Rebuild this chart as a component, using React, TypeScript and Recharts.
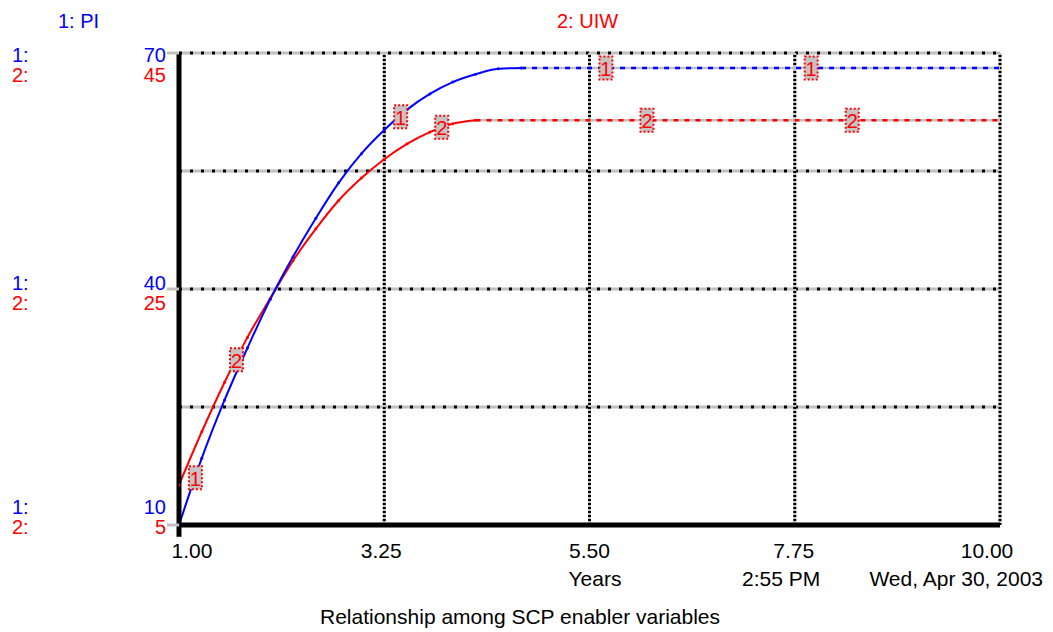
import React from 'react';
import { ComposedChart, Line, Scatter, XAxis, YAxis, ReferenceLine } from 'recharts';

// ---- data ----
const piYears = [1, 1.25, 1.5, 1.75, 2, 2.25, 2.5, 2.75, 3, 3.25, 3.5, 3.75, 4, 4.25, 4.5, 4.75];
const piValues = [10, 18.5, 25.9, 32.5, 38.7, 44.1, 49.0, 53.5, 57.2, 60.2, 62.8, 64.8, 66.3, 67.3, 68.0, 68.1];
const piPlateauYears = [4.75, 10];
const piPlateauValues = [68.1, 68.1];

const uiwYears = [1, 1.25, 1.5, 1.75, 2, 2.25, 2.5, 2.75, 3, 3.25, 3.5, 3.75, 4, 4.25];
const uiwValues = [8.4, 12.9, 17.1, 20.9, 24.2, 27.4, 30.1, 32.5, 34.4, 36.0, 37.3, 38.3, 39.0, 39.3];
const uiwPlateauYears = [4.25, 10];
const uiwPlateauValues = [39.3, 39.3];

const marker1Years = [1.18, 3.43, 5.68, 7.93];
const marker1Values = [16.0, 61.9, 68.1, 68.1];
const marker2Years = [1.63, 3.88, 6.13, 8.38];
const marker2Values = [19.0, 38.7, 39.3, 39.3];

const xTicks = [1, 3.25, 5.5, 7.75, 10];
const xTickLabels = ['1.00', '3.25', '5.50', '7.75', '10.00'];
const xGrid = [3.25, 5.5, 7.75, 10];

const piDomain = [10, 70];
const uiwDomain = [5, 45];
const piTicks = [10, 40, 70];
const piTickLabels = ['10', '40', '70'];
const uiwTickLabels = ['5', '25', '45'];
const piGrid = [25, 40, 55, 70];

// ---- styles ----
const FONT = 'Liberation Sans, Arial, sans-serif';
const FS = 20;
const FS_BOTTOM = 21;
const BLUE = '#0000ff';
const RED = '#ff0000';
const GRAY = '#c0c0c0';

const zip = (xs: number[], vs: number[]) => xs.map((x, i) => ({ x, v: vs[i] }));

const piSolid = zip(piYears, piValues);
const piPlateau = zip(piPlateauYears, piPlateauValues);
const uiwSolid = zip(uiwYears, uiwValues);
const uiwPlateau = zip(uiwPlateauYears, uiwPlateauValues);
const marker1 = zip(marker1Years, marker1Values);
const marker2 = zip(marker2Years, marker2Values);

const yOffsets = [[-11, 9], [1, 21], [9, 29]];

const YTick = (props: any) => {
  const { y, payload } = props;
  const i = piTicks.indexOf(payload.value);
  if (i < 0) return null;
  const [ob, or] = yOffsets[i];
  return (
    <g fontFamily={FONT} fontSize={FS}>
      <text x={12} y={y + ob} fill={BLUE}>1:</text>
      <text x={166} y={y + ob} fill={BLUE} textAnchor="end">{piTickLabels[i]}</text>
      <text x={12} y={y + or} fill={RED}>2:</text>
      <text x={166} y={y + or} fill={RED} textAnchor="end">{uiwTickLabels[i]}</text>
    </g>
  );
};

const xLabelOffsets = [13, -3, 0, -1, -13];

const XTick = (props: any) => {
  const { x, y, payload } = props;
  const i = xTicks.indexOf(payload.value);
  if (i < 0) return null;
  return (
    <text x={x + xLabelOffsets[i]} y={y + 33} textAnchor="middle" fontFamily={FONT} fontSize={FS_BOTTOM} fill="#000">
      {xTickLabels[i]}
    </text>
  );
};

const makeMarker = (label: string) => (props: any) => {
  const { cx, cy } = props;
  return (
    <g>
      <rect x={cx - 6.5} y={cy - 11.5} width={13} height={23} fill="#c4c4c4" stroke={RED} strokeWidth={2} strokeDasharray="2 2" />
      <text x={cx} y={cy + 8} textAnchor="middle" fill={RED} fontFamily={FONT} fontSize={FS}>{label}</text>
    </g>
  );
};

export default function App() {
  return (
    <div style={{ position: 'absolute', left: 0, top: 0, width: 1053, height: 632, background: '#fff' }}>
      <ComposedChart width={1053} height={632} margin={{ top: 53, right: 53, bottom: 0, left: 0 }}>
        <XAxis
          xAxisId={0}
          type="number"
          dataKey="x"
          domain={[1, 10]}
          ticks={xTicks}
          allowDataOverflow
          height={107}
          axisLine={{ stroke: '#000', strokeWidth: 5 }}
          tickLine={false}
          tickSize={0}
          tickMargin={0}
          tick={(p: any) => <XTick {...p} />}
        />
        <YAxis
          yAxisId="pi"
          type="number"
          domain={piDomain}
          ticks={piTicks}
          allowDataOverflow
          width={179}
          axisLine={{ stroke: '#000', strokeWidth: 5 }}
          tickLine={{ stroke: GRAY, strokeWidth: 3 }}
          tickSize={12}
          tick={(p: any) => <YTick {...p} />}
        />
        <YAxis yAxisId="uiw" type="number" domain={uiwDomain} hide allowDataOverflow />

        {piGrid.map((v) => (
          <ReferenceLine key={'hg' + v} yAxisId="pi" y={v} stroke={GRAY} strokeWidth={3} ifOverflow="visible" />
        ))}
        {piGrid.map((v) => (
          <ReferenceLine key={'hb' + v} yAxisId="pi" y={v} stroke="#000" strokeWidth={3} strokeDasharray="3 8" ifOverflow="visible" />
        ))}
        {xGrid.map((v) => (
          <ReferenceLine key={'vg' + v} yAxisId="pi" x={v} stroke={GRAY} strokeWidth={3} ifOverflow="visible" />
        ))}
        {xGrid.map((v) => (
          <ReferenceLine key={'vb' + v} yAxisId="pi" x={v} stroke="#000" strokeWidth={3} strokeDasharray="2 2" ifOverflow="visible" />
        ))}
        <ReferenceLine
          yAxisId="pi"
          segment={[{ x: 1, y: 10 }, { x: 1, y: 8.5 }]}
          stroke="#000"
          strokeWidth={5}
          ifOverflow="visible"
        />

        <Line data={piPlateau} dataKey="v" yAxisId="pi" type="linear" stroke={GRAY} strokeWidth={2.5} dot={false} isAnimationActive={false} />
        <Line data={piPlateau} dataKey="v" yAxisId="pi" type="linear" stroke={BLUE} strokeWidth={2.5} strokeDasharray="5 6" dot={false} isAnimationActive={false} />
        <Line data={uiwPlateau} dataKey="v" yAxisId="uiw" type="linear" stroke={GRAY} strokeWidth={2.5} dot={false} isAnimationActive={false} />
        <Line data={uiwPlateau} dataKey="v" yAxisId="uiw" type="linear" stroke={RED} strokeWidth={2.5} strokeDasharray="5 6" dot={false} isAnimationActive={false} />

        <Line data={uiwSolid} dataKey="v" yAxisId="uiw" type="monotone" stroke={RED} strokeWidth={2}
          dot={{ r: 1.5, fill: RED, stroke: RED, strokeWidth: 0 }} isAnimationActive={false} />
        <Line data={piSolid} dataKey="v" yAxisId="pi" type="monotone" stroke={BLUE} strokeWidth={2}
          dot={{ r: 1.5, fill: BLUE, stroke: BLUE, strokeWidth: 0 }} isAnimationActive={false} />

        <Scatter data={marker1} dataKey="v" yAxisId="pi" shape={makeMarker('1')} isAnimationActive={false} />
        <Scatter data={marker2} dataKey="v" yAxisId="uiw" shape={makeMarker('2')} isAnimationActive={false} />
      </ComposedChart>
      <svg width={1053} height={632} style={{ position: 'absolute', left: 0, top: 0, pointerEvents: 'none' }}>
        <g fontFamily={FONT} fill="#000">
          <text x={58} y={28} fill={BLUE} fontSize={FS}>1: PI</text>
          <text x={557} y={28} fill={RED} fontSize={FS}>2: UIW</text>
          <text x={595} y={586} textAnchor="middle" fontSize={FS_BOTTOM}>Years</text>
          <text x={742} y={586} fontSize={FS_BOTTOM}>2:55 PM</text>
          <text x={1043} y={586} textAnchor="end" fontSize={FS_BOTTOM}>Wed, Apr 30, 2003</text>
          <text x={520} y={624} textAnchor="middle" fontSize={FS_BOTTOM}>Relationship among SCP enabler variables</text>
        </g>
      </svg>
    </div>
  );
}
